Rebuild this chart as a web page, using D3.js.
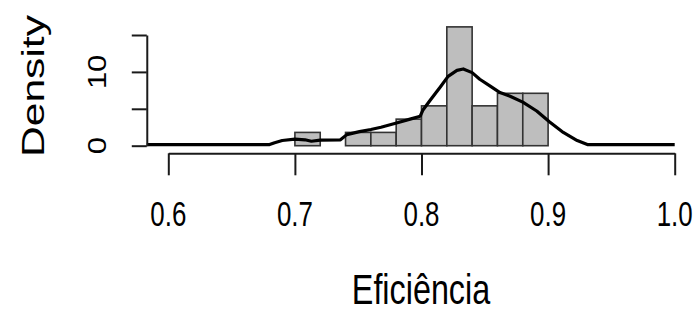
<!DOCTYPE html>
<html><head><meta charset="utf-8">
<script src="https://cdn.jsdelivr.net/npm/d3@7/dist/d3.min.js"></script>
<style>body{margin:0;background:#fff;overflow:hidden}</style>
</head><body>
<svg id="c" width="698" height="313"></svg>
<script>
// ---- data ----
const binStarts = [0.70, 0.72, 0.74, 0.76, 0.78, 0.80, 0.82, 0.84, 0.86, 0.88];
const binEnds   = [0.72, 0.74, 0.76, 0.78, 0.80, 0.82, 0.84, 0.86, 0.88, 0.90];
const densities = [1.8, 0, 1.8, 1.8, 3.6, 5.4, 16.1, 5.4, 7.1, 7.1];

const curveX = [0.583, 0.680, 0.684, 0.690, 0.700, 0.708, 0.713, 0.720, 0.736, 0.741, 0.751, 0.760, 0.768,
                0.781, 0.791, 0.799, 0.801, 0.807, 0.815, 0.821, 0.828, 0.833, 0.840, 0.846, 0.854, 0.862,
                0.870, 0.880, 0.891, 0.901, 0.912, 0.923, 0.931, 0.937, 1.000];
const curveY = [0.15, 0.15, 0.4, 0.7, 0.9, 0.8, 0.6, 0.75, 0.8, 1.5, 1.9, 2.2, 2.5,
                3.1, 3.6, 4.0, 4.8, 6.2, 8.0, 9.4, 10.2, 10.4, 9.9, 9.0, 8.1, 7.2,
                6.7, 5.9, 4.7, 3.25, 1.8, 0.7, 0.15, 0.15, 0.15];

const xTicks = [0.6, 0.7, 0.8, 0.9, 1.0];
const xTickLabels = ["0.6", "0.7", "0.8", "0.9", "1.0"];
const yTicks = [0, 5, 10, 15];
const yTickLabels = ["0", "", "10", ""];
const xTitle = "Eficiência";
const yTitle = "Density";

// ---- drawing ----
const svg = d3.select("#c");
const FONT = "'Liberation Sans', Arial, sans-serif";
const x = d3.scaleLinear().domain([0.6, 1.0]).range([168.3, 674.7]);
const y = d3.scaleLinear().domain([0, 15]).range([145.7, 35]);
const plotLeft = x(0.583);

// bars
svg.append("g").selectAll("rect")
  .data(densities.map((d, i) => ({x0: binStarts[i], x1: binEnds[i], d})))
  .join("rect")
  .attr("x", d => x(d.x0))
  .attr("width", d => x(d.x1) - x(d.x0))
  .attr("y", d => y(d.d))
  .attr("height", d => y(0) - y(d.d))
  .attr("fill", "#bebebe")
  .attr("stroke", "#333")
  .attr("stroke-width", 1.6);

// density curve
const line = d3.line().x(d => x(d[0])).y(d => y(d[1])).curve(d3.curveLinear);
svg.append("path")
  .attr("d", line(curveX.map((v, i) => [v, curveY[i]])))
  .attr("fill", "none").attr("stroke", "#000").attr("stroke-width", 3.2)
  .attr("stroke-linejoin", "round");

// x axis
const gx = svg.append("g").attr("transform", "translate(0,153.3)")
  .call(d3.axisBottom(x).tickValues(xTicks).tickSize(22).tickSizeOuter(0).tickFormat(""));
gx.selectAll("path,line").attr("stroke", "#1a1a1a").attr("stroke-width", 2);

// y axis
const gy = svg.append("g").attr("transform", `translate(${plotLeft},0)`)
  .call(d3.axisLeft(y).tickValues(yTicks).tickSize(15).tickSizeOuter(0).tickFormat(""));
gy.selectAll("path,line").attr("stroke", "#1a1a1a").attr("stroke-width", 2);

// x tick labels
svg.append("g").selectAll("text").data(xTicks).join("text")
  .attr("transform", d => `translate(${x(d)},226) scale(0.72,1)`)
  .attr("text-anchor", "middle")
  .attr("font-family", FONT).attr("font-size", 36).attr("fill", "#000")
  .text((d, i) => xTickLabels[i]);

// y tick labels
svg.append("g").selectAll("text").data(yTicks).join("text")
  .attr("transform", d => `translate(${106},${y(d)}) scale(0.85,1) rotate(-90)`)
  .attr("text-anchor", "middle")
  .attr("font-family", FONT).attr("font-size", 31).attr("fill", "#000")
  .text((d, i) => yTickLabels[i]);

// titles
svg.append("text")
  .attr("transform", `translate(421,304) scale(0.77,1)`)
  .attr("text-anchor", "middle")
  .attr("font-family", FONT).attr("font-size", 42).attr("fill", "#000")
  .text(xTitle);

svg.append("text")
  .attr("transform", `translate(44,86) scale(0.72,1) rotate(-90)`)
  .attr("text-anchor", "middle")
  .attr("font-family", FONT).attr("font-size", 42.6).attr("fill", "#000")
  .text(yTitle);
</script>
</body></html>
